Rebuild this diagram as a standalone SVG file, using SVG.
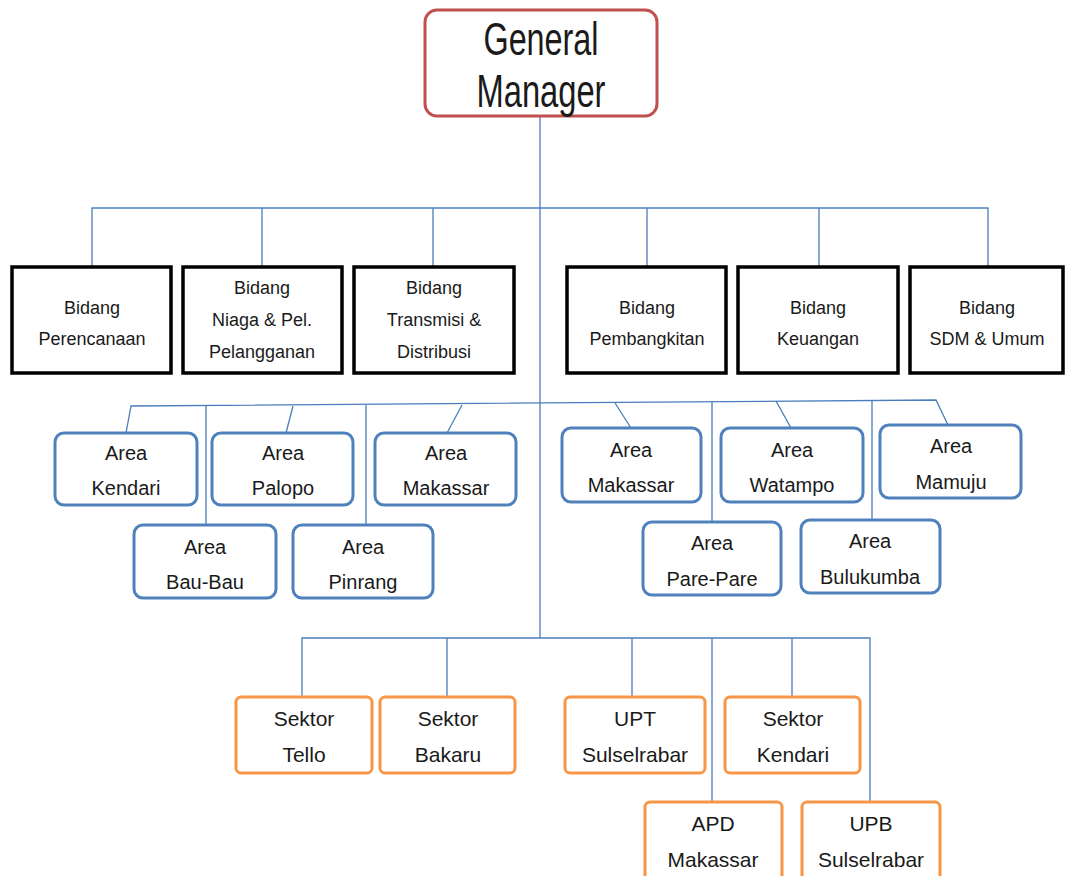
<svg xmlns="http://www.w3.org/2000/svg" width="1065" height="876" viewBox="0 0 1065 876">
<style>
.bg{fill:#ffffff}
.gm{fill:#ffffff;stroke:#c0504d;stroke-width:3}
.bd{fill:#ffffff;stroke:#000000;stroke-width:3.5}
.ar{fill:#ffffff;stroke:#4f81bd;stroke-width:3}
.sk{fill:#ffffff;stroke:#f79646;stroke-width:3}
.cn{fill:none;stroke:#4a7ebb;stroke-width:1.3}
text{font-family:"Liberation Sans",Arial,sans-serif;fill:#1a1a1a;text-anchor:middle}
.t18{font-size:18px}
.t19{font-size:20px}
.t21{font-size:21px}
.t42{font-size:46px}
</style>
<rect class="bg" x="0" y="0" width="1065" height="876"/>
<g id="connectors">
<line class="cn" x1="540" y1="116" x2="540" y2="638"/>
<polyline class="cn" points="92,267 92,208 988,208 988,267"/>
<line class="cn" x1="262" y1="208" x2="262" y2="267"/>
<line class="cn" x1="433" y1="208" x2="433" y2="267"/>
<line class="cn" x1="647" y1="208" x2="647" y2="267"/>
<line class="cn" x1="819" y1="208" x2="819" y2="267"/>
<polyline class="cn" points="126,433 131,406 936,400 948,425"/>
<line class="cn" x1="293" y1="406" x2="286" y2="433"/>
<line class="cn" x1="462" y1="405" x2="447" y2="433"/>
<line class="cn" x1="206" y1="406" x2="206" y2="525"/>
<line class="cn" x1="366" y1="405" x2="366" y2="525"/>
<line class="cn" x1="615" y1="403" x2="631" y2="428"/>
<line class="cn" x1="776" y1="401" x2="791" y2="428"/>
<line class="cn" x1="712" y1="402" x2="712" y2="522"/>
<line class="cn" x1="872" y1="401" x2="872" y2="520"/>
<polyline class="cn" points="302,697 302,638 870,638 870,802"/>
<line class="cn" x1="447" y1="638" x2="447" y2="697"/>
<line class="cn" x1="632" y1="638" x2="632" y2="697"/>
<line class="cn" x1="712" y1="638" x2="712" y2="802"/>
<line class="cn" x1="792" y1="638" x2="792" y2="697"/>
</g>
<g id="gm">
<rect class="gm" x="425" y="10" width="232" height="106" rx="12"/>
<text class="t42" x="541" y="55" textLength="115" lengthAdjust="spacingAndGlyphs">General</text>
<text class="t42" x="541" y="107" textLength="129" lengthAdjust="spacingAndGlyphs">Manager</text>
</g>
<g id="bidang-perencanaan">
<rect class="bd" x="12" y="267" width="159" height="106"/>
<text class="t18" x="92" y="314">Bidang</text>
<text class="t18" x="92" y="345">Perencanaan</text>
</g>
<g id="bidang-niaga">
<rect class="bd" x="183" y="267" width="159" height="106"/>
<text class="t18" x="262" y="294">Bidang</text>
<text class="t18" x="262" y="326">Niaga &amp; Pel.</text>
<text class="t18" x="262" y="358">Pelangganan</text>
</g>
<g id="bidang-transmisi">
<rect class="bd" x="354" y="267" width="160" height="106"/>
<text class="t18" x="434" y="294">Bidang</text>
<text class="t18" x="434" y="326">Transmisi &amp;</text>
<text class="t18" x="434" y="358">Distribusi</text>
</g>
<g id="bidang-pembangkitan">
<rect class="bd" x="567" y="267" width="159" height="106"/>
<text class="t18" x="647" y="314">Bidang</text>
<text class="t18" x="647" y="345">Pembangkitan</text>
</g>
<g id="bidang-keuangan">
<rect class="bd" x="738" y="267" width="160" height="106"/>
<text class="t18" x="818" y="314">Bidang</text>
<text class="t18" x="818" y="345">Keuangan</text>
</g>
<g id="bidang-sdm">
<rect class="bd" x="910" y="267" width="153" height="106"/>
<text class="t18" x="987" y="314">Bidang</text>
<text class="t18" x="987" y="345">SDM &amp; Umum</text>
</g>
<g id="area-kendari">
<rect class="ar" x="55" y="433" width="142" height="72" rx="9"/>
<text class="t19" x="126" y="460">Area</text>
<text class="t19" x="126" y="495">Kendari</text>
</g>
<g id="area-palopo">
<rect class="ar" x="212" y="433" width="141" height="72" rx="9"/>
<text class="t19" x="283" y="460">Area</text>
<text class="t19" x="283" y="495">Palopo</text>
</g>
<g id="area-makassar-1">
<rect class="ar" x="375" y="433" width="141" height="72" rx="9"/>
<text class="t19" x="446" y="460">Area</text>
<text class="t19" x="446" y="495">Makassar</text>
</g>
<g id="area-baubau">
<rect class="ar" x="134" y="525" width="142" height="73" rx="9"/>
<text class="t19" x="205" y="554">Area</text>
<text class="t19" x="205" y="589">Bau-Bau</text>
</g>
<g id="area-pinrang">
<rect class="ar" x="293" y="525" width="140" height="73" rx="9"/>
<text class="t19" x="363" y="554">Area</text>
<text class="t19" x="363" y="589">Pinrang</text>
</g>
<g id="area-makassar-2">
<rect class="ar" x="562" y="428" width="139" height="74" rx="9"/>
<text class="t19" x="631" y="457">Area</text>
<text class="t19" x="631" y="492">Makassar</text>
</g>
<g id="area-watampo">
<rect class="ar" x="721" y="428" width="142" height="74" rx="9"/>
<text class="t19" x="792" y="457">Area</text>
<text class="t19" x="792" y="492">Watampo</text>
</g>
<g id="area-mamuju">
<rect class="ar" x="880" y="425" width="141" height="73" rx="9"/>
<text class="t19" x="951" y="453">Area</text>
<text class="t19" x="951" y="489">Mamuju</text>
</g>
<g id="area-parepare">
<rect class="ar" x="643" y="522" width="138" height="73" rx="9"/>
<text class="t19" x="712" y="550">Area</text>
<text class="t19" x="712" y="586">Pare-Pare</text>
</g>
<g id="area-bulukumba">
<rect class="ar" x="801" y="520" width="139" height="73" rx="9"/>
<text class="t19" x="870" y="548">Area</text>
<text class="t19" x="870" y="584">Bulukumba</text>
</g>
<g id="sektor-tello">
<rect class="sk" x="236" y="697" width="136" height="76" rx="5"/>
<text class="t21" x="304" y="726">Sektor</text>
<text class="t21" x="304" y="762">Tello</text>
</g>
<g id="sektor-bakaru">
<rect class="sk" x="380" y="697" width="135" height="76" rx="5"/>
<text class="t21" x="448" y="726">Sektor</text>
<text class="t21" x="448" y="762">Bakaru</text>
</g>
<g id="upt-sulselrabar">
<rect class="sk" x="565" y="697" width="140" height="76" rx="5"/>
<text class="t21" x="635" y="726">UPT</text>
<text class="t21" x="635" y="762">Sulselrabar</text>
</g>
<g id="sektor-kendari">
<rect class="sk" x="725" y="697" width="135" height="76" rx="5"/>
<text class="t21" x="793" y="726">Sektor</text>
<text class="t21" x="793" y="762">Kendari</text>
</g>
<g id="apd-makassar">
<rect class="sk" x="645" y="802" width="137" height="80" rx="5"/>
<text class="t21" x="713" y="831">APD</text>
<text class="t21" x="713" y="867">Makassar</text>
</g>
<g id="upb-sulselrabar">
<rect class="sk" x="802" y="802" width="138" height="80" rx="5"/>
<text class="t21" x="871" y="831">UPB</text>
<text class="t21" x="871" y="867">Sulselrabar</text>
</g>
</svg>
